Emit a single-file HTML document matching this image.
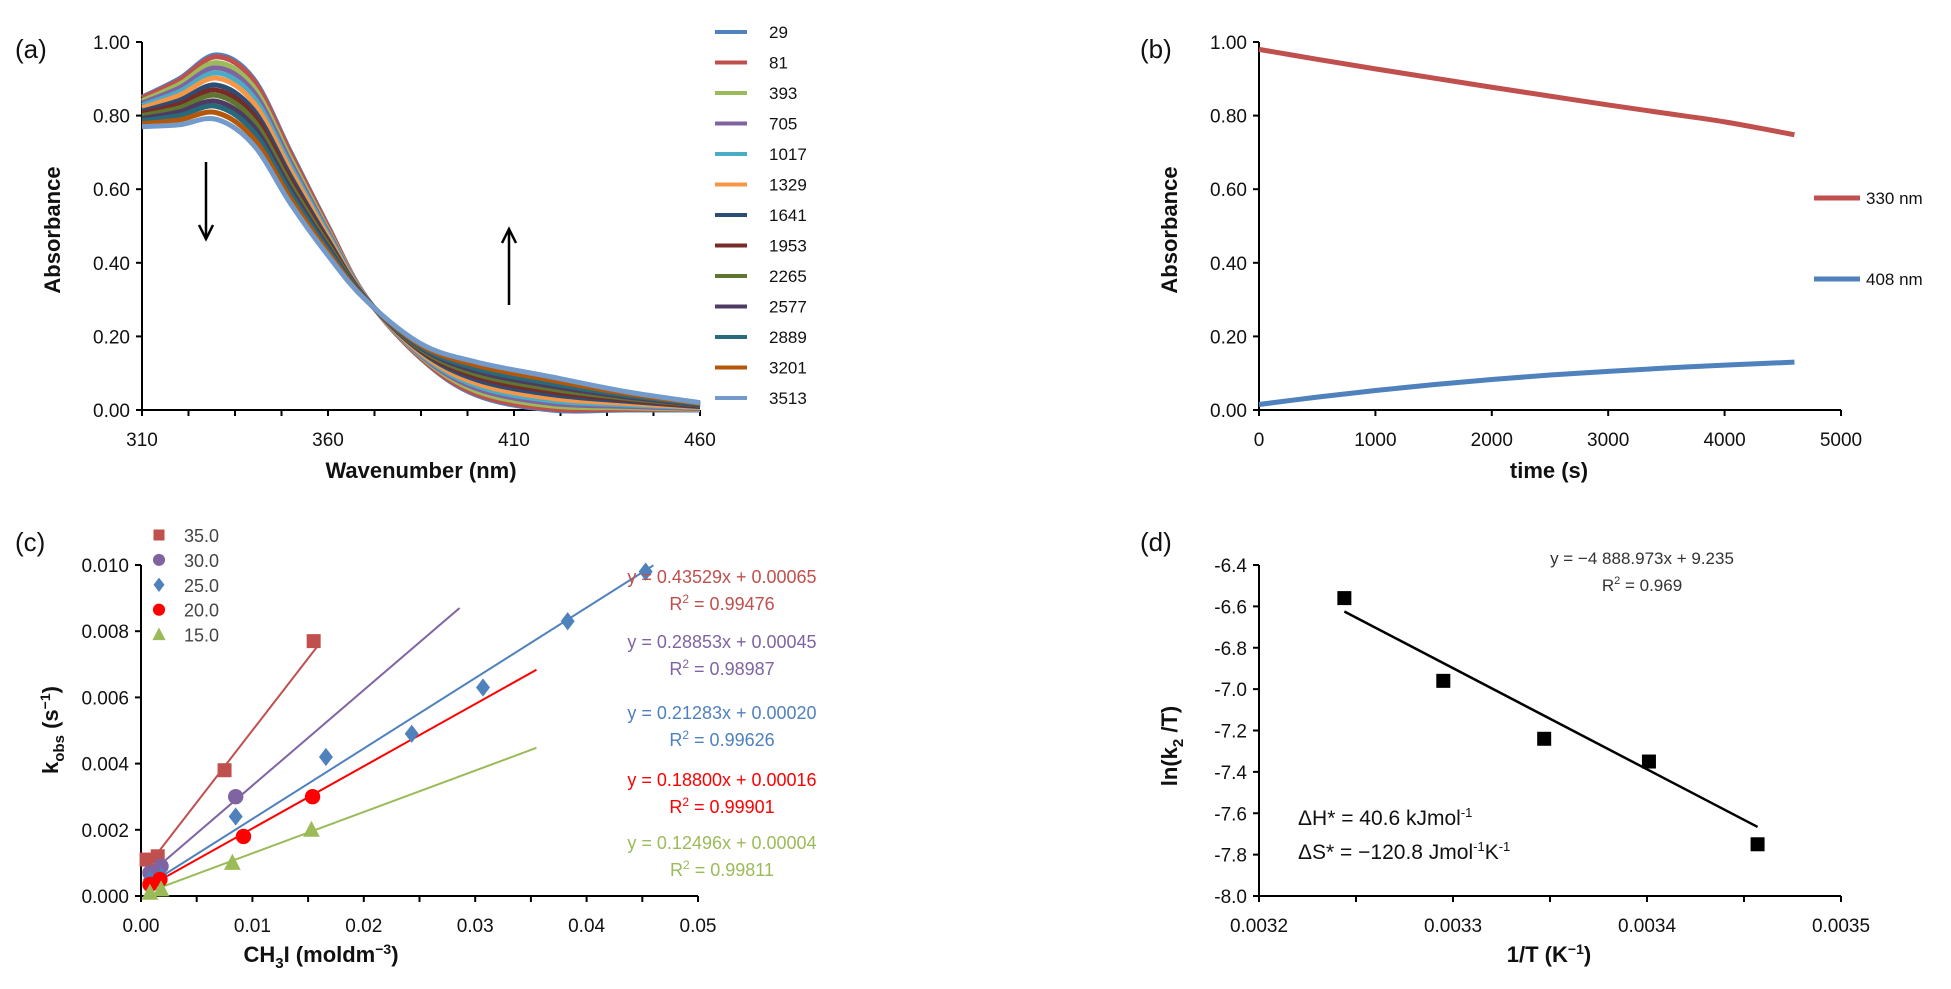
<!DOCTYPE html>
<html><head><meta charset="utf-8"><style>
body{margin:0;background:#fff;}
svg{display:block;font-family:"Liberation Sans",sans-serif;}
.tk{font-size:19px;fill:#111;}
.at{font-size:22px;font-weight:bold;fill:#111;}
.pl{font-size:26px;fill:#111;}
</style></head><body>
<svg id="c" width="1951" height="989" viewBox="0 0 1951 989"></svg>
<script>
// ---- Panel (a) data ----
const aWl=[310,320,330,340,350,360,370,385,400,420,440,460];
const aNames=["29","81","393","705","1017","1329","1641","1953","2265","2577","2889","3201","3513"];
const aColors=["#4F81BD","#C0504D","#9BBB59","#8064A2","#4BACC6","#F79646","#2C4D75","#772C2A","#5F7530","#4D3B62","#276A7C","#B65708","#729ACA"];
const s29=[0.85,0.90,0.965,0.90,0.70,0.50,0.31,0.14,0.04,0.0,0.0,0.0];
const s81=[0.848,0.896,0.960,0.895,0.696,0.498,0.310,0.141,0.043,0.003,0.002,0.001];
const s393=[0.840,0.885,0.944,0.878,0.683,0.490,0.309,0.145,0.051,0.011,0.006,0.002];
const s705=[0.834,0.875,0.930,0.864,0.672,0.484,0.308,0.148,0.058,0.018,0.010,0.004];
const s1017=[0.828,0.865,0.916,0.850,0.661,0.478,0.307,0.151,0.065,0.025,0.014,0.006];
const s1329=[0.821,0.855,0.902,0.835,0.650,0.471,0.306,0.154,0.072,0.032,0.018,0.007];
const s1641=[0.812,0.841,0.883,0.815,0.634,0.462,0.305,0.159,0.082,0.042,0.024,0.009];
const s1953=[0.806,0.831,0.869,0.801,0.623,0.456,0.305,0.162,0.090,0.050,0.028,0.011];
const s2265=[0.800,0.821,0.855,0.787,0.612,0.450,0.304,0.165,0.097,0.057,0.032,0.013];
const s2577=[0.792,0.810,0.839,0.770,0.599,0.442,0.303,0.169,0.105,0.065,0.036,0.014];
const s2889=[0.786,0.800,0.825,0.756,0.588,0.436,0.302,0.172,0.112,0.072,0.040,0.016];
const s3201=[0.778,0.788,0.808,0.738,0.574,0.428,0.301,0.176,0.121,0.081,0.045,0.018];
const s3513=[0.77,0.775,0.79,0.72,0.56,0.42,0.30,0.18,0.13,0.09,0.05,0.02];
const aSeries=[s29,s81,s393,s705,s1017,s1329,s1641,s1953,s2265,s2577,s2889,s3201,s3513];
const aYTicks=["0.00","0.20","0.40","0.60","0.80","1.00"];
const aXTicks=[310,360,410,460];
// ---- Panel (b) data ----
const bTime=[0,500,1000,1500,2000,2500,3000,3500,4000,4600];
const b330=[0.98,0.953,0.927,0.902,0.877,0.853,0.829,0.806,0.783,0.748];
const b408=[0.015,0.035,0.053,0.069,0.083,0.095,0.105,0.114,0.122,0.13];
const bXTicks=[0,1000,2000,3000,4000,5000];
// ---- Panel (c) data ----
const cTemps=["35.0","30.0","25.0","20.0","15.0"];
const cColors=["#C0504D","#8064A2","#4F81BD","#FF0000","#9BBB59"];
const cShapes=["square","circle","diamond","circle","triangle"];
const cX35=[0.0005,0.0015,0.0075,0.0155], cY35=[0.0011,0.0012,0.0038,0.0077];
const cX30=[0.0008,0.0018,0.0085], cY30=[0.0007,0.0009,0.0030];
const cX25=[0.0008,0.0018,0.0085,0.0166,0.0243,0.0307,0.0383,0.0453], cY25=[0.0005,0.0006,0.0024,0.0042,0.0049,0.0063,0.0083,0.0098];
const cX20=[0.0008,0.0017,0.0092,0.0154], cY20=[0.00035,0.0005,0.0018,0.0030];
const cX15=[0.0008,0.0018,0.0082,0.0153], cY15=[0.0001,0.0002,0.0010,0.0020];
const cSlopes=[0.43529,0.28853,0.21283,0.18800,0.12496];
const cIntercepts=[0.00065,0.00045,0.00020,0.00016,0.00004];
const cFitEnd=[0.0158,0.0286,0.046,0.0355,0.0355];
const cEq=["y = 0.43529x + 0.00065","y = 0.28853x + 0.00045","y = 0.21283x + 0.00020","y = 0.18800x + 0.00016","y = 0.12496x + 0.00004"];
const cR2=["0.99476","0.98987","0.99626","0.99901","0.99811"];
const cXTicks=["0.00","0.01","0.02","0.03","0.04","0.05"];
const cYTicks=["0.000","0.002","0.004","0.006","0.008","0.010"];
// ---- Panel (d) data ----
const dX=[0.003244,0.003295,0.003347,0.003401,0.003457];
const dY=[-6.56,-6.96,-7.24,-7.35,-7.75];
const dSlope=-4888.973, dIntercept=9.235;
const dXTicks=["0.0032","0.0033","0.0034","0.0035"];
const dYTicks=["-8.0","-7.8","-7.6","-7.4","-7.2","-7.0","-6.8","-6.6","-6.4"];

const svg=document.getElementById('c');
const NS="http://www.w3.org/2000/svg";
function mk(tag,at,parent){const e=document.createElementNS(NS,tag);for(const k in at)e.setAttribute(k,at[k]);(parent||svg).appendChild(e);return e;}
function txt(s,x,y,cls,anchor,parent,extra){const t=mk('text',Object.assign({x:x,y:y,class:cls,'text-anchor':anchor||'start'},extra||{}),parent);t.textContent=s;return t;}
function lin(d0,d1,r0,r1){return v=>r0+(v-d0)/(d1-d0)*(r1-r0);}
function smooth(pts){let d="M"+pts[0][0]+","+pts[0][1];for(let i=0;i<pts.length-1;i++){const p0=pts[i-1]||pts[i],p1=pts[i],p2=pts[i+1],p3=pts[i+2]||p2;const c1=[p1[0]+(p2[0]-p0[0])/6,p1[1]+(p2[1]-p0[1])/6],c2=[p2[0]-(p3[0]-p1[0])/6,p2[1]-(p3[1]-p1[1])/6];d+=" C"+c1+" "+c2+" "+p2;}return d;}
function arrow(x,y1,y2,name){const g=mk('g',{});mk('line',{x1:x,y1:y1,x2:x,y2:y2,stroke:'#000','stroke-width':2.5},g);const dir=y2>y1?-1:1;mk('polyline',{points:(x-7)+","+(y2+dir*14)+" "+x+","+y2+" "+(x+7)+","+(y2+dir*14),fill:'none',stroke:'#000','stroke-width':2.5},g);}
function axes(g,x0,x1,y0,y1){mk('line',{x1:x0,y1:y1,x2:x0,y2:y0,stroke:'#000','stroke-width':2},g);mk('line',{x1:x0,y1:y0,x2:x1,y2:y0,stroke:'#000','stroke-width':2},g);}

// ===== Panel a =====
{
const g=mk('g',{});
const X=lin(310,460,142,700),Y=lin(0,1,410,42);
axes(g,142,700,410,42);
aYTicks.forEach(t=>{const y=Y(+t);mk('line',{x1:136,y1:y,x2:142,y2:y,stroke:'#000','stroke-width':2},g);const l=txt(t,130,y+7,'tk','end',g);});
for(let v=310;v<=460;v+=12.5){mk('line',{x1:X(v),y1:410,x2:X(v),y2:416,stroke:'#000','stroke-width':2},g);}
aXTicks.forEach(t=>{const l=txt(t,X(t),446,'tk','middle',g);});
aSeries.forEach((s,i)=>{const p=mk('path',{d:smooth(s.map((v,j)=>[X(aWl[j]),Y(v)])),fill:'none',stroke:aColors[i],'stroke-width':5},g);});
aNames.forEach((n,i)=>{const y=32+i*30.5;const e=mk('g',{},g);mk('line',{x1:715,y1:y,x2:747,y2:y,stroke:aColors[i],'stroke-width':4},e);txt(n,769,y+6,'tk','start',e,{style:'font-size:17px'});});
const yt=txt('Absorbance',0,0,'at','middle',g,{transform:'translate(60,230) rotate(-90)'});
const xt=txt('Wavenumber (nm)',421,478,'at','middle',g);
const pl=txt('(a)',15,58,'pl','start',g);
arrow(206,162,239,'down-arrow');arrow(509,305,229,'up-arrow');
}
// ===== Panel b =====
{
const g=mk('g',{});
const X=lin(0,5000,1259,1841),Y=lin(0,1,410,42);
axes(g,1259,1841,410,42);
aYTicks.forEach(t=>{const y=Y(+t);mk('line',{x1:1253,y1:y,x2:1259,y2:y,stroke:'#000','stroke-width':2},g);const l=txt(t,1247,y+7,'tk','end',g);});
bXTicks.forEach(t=>{mk('line',{x1:X(t),y1:410,x2:X(t),y2:416,stroke:'#000','stroke-width':2},g);const l=txt(t,X(t),446,'tk','middle',g);});
const p1=mk('path',{d:smooth(bTime.map((t,i)=>[X(t),Y(b330[i])])),fill:'none',stroke:'#C0504D','stroke-width':5},g);
const p2=mk('path',{d:smooth(bTime.map((t,i)=>[X(t),Y(b408[i])])),fill:'none',stroke:'#4F81BD','stroke-width':5},g);
[["330 nm","#C0504D",198],["408 nm","#4F81BD",279]].forEach(l=>{const e=mk('g',{},g);mk('line',{x1:1814,y1:l[2],x2:1860,y2:l[2],stroke:l[1],'stroke-width':5},e);txt(l[0],1866,l[2]+6,'tk','start',e,{style:'font-size:17px'});});
const yt=txt('Absorbance',0,0,'at','middle',g,{transform:'translate(1177,230) rotate(-90)'});
const xt=txt('time (s)',1549,478,'at','middle',g);
const pl=txt('(b)',1140,58,'pl','start',g);
}
// ===== Panel c =====
function marker(g,shape,x,y,col,s){
 if(shape==='square')return mk('rect',{x:x-s,y:y-s,width:2*s,height:2*s,fill:col},g);
 if(shape==='circle')return mk('circle',{cx:x,cy:y,r:s*1.1,fill:col},g);
 if(shape==='diamond')return mk('polygon',{points:`${x},${y-s*1.3} ${x+s},${y} ${x},${y+s*1.3} ${x-s},${y}`,fill:col},g);
 return mk('polygon',{points:`${x},${y-s*1.3} ${x+s*1.2},${y+s} ${x-s*1.2},${y+s}`,fill:col},g);
}
{
const g=mk('g',{});
const X=lin(0,0.05,141,698),Y=lin(0,0.010,896,565);
axes(g,141,698,896,565);
cYTicks.forEach(t=>{const y=Y(+t);mk('line',{x1:135,y1:y,x2:141,y2:y,stroke:'#000','stroke-width':2},g);const l=txt(t,129,y+7,'tk','end',g);});
for(let v=0;v<=0.0501;v+=0.005){mk('line',{x1:X(v),y1:896,x2:X(v),y2:902,stroke:'#000','stroke-width':2},g);}
cXTicks.forEach(t=>{const l=txt(t,X(+t),932,'tk','middle',g);});
const xs=[cX35,cX30,cX25,cX20,cX15],ys=[cY35,cY30,cY25,cY20,cY15];
cTemps.forEach((t,i)=>{
 const x0=xs[i][0];const f=mk('line',{x1:X(x0),y1:Y(cSlopes[i]*x0+cIntercepts[i]),x2:X(cFitEnd[i]),y2:Y(cSlopes[i]*cFitEnd[i]+cIntercepts[i]),stroke:cColors[i],'stroke-width':2},g);
 
});
cTemps.forEach((t,i)=>{xs[i].forEach((x,j)=>{const m=marker(g,cShapes[i],X(x),Y(ys[i][j]),cColors[i],7);});});
cTemps.forEach((t,i)=>{const y=535+i*24.9;const e=mk('g',{},g);marker(e,cShapes[i],159,y,cColors[i],5.5);txt(t,184,y+7,'tk','start',e,{style:'font-size:18px;fill:#444'});});
const eqY=[576,641,712,779,842];
cEq.forEach((s,i)=>{const e=mk('g',{},g);
 txt(s,722,eqY[i]+7,'tk','middle',e,{style:'font-size:18px;fill:'+cColors[i]});
 const r=txt('',722,eqY[i]+34,'tk','middle',e,{style:'font-size:18px;fill:'+cColors[i]});r.innerHTML='R<tspan dy="-7" font-size="12">2</tspan><tspan dy="7"> = '+cR2[i]+'</tspan>';});
const yt=mk('text',{class:'at','text-anchor':'middle',transform:'translate(58,730) rotate(-90)'},g);yt.innerHTML='k<tspan dy="6" font-size="15">obs</tspan><tspan dy="-6"> (s</tspan><tspan dy="-8" font-size="14">−1</tspan><tspan dy="8">)</tspan>';
const xt=mk('text',{x:321,y:962,class:'at','text-anchor':'middle'},g);xt.innerHTML='CH<tspan dy="6" font-size="15">3</tspan><tspan dy="-6">I (moldm</tspan><tspan dy="-8" font-size="14">−3</tspan><tspan dy="8">)</tspan>';
const pl=txt('(c)',15,551,'pl','start',g);
}
// ===== Panel d =====
{
const g=mk('g',{});
const X=lin(0.0032,0.0035,1259,1841),Y=lin(-8.0,-6.4,896,565);
axes(g,1259,1841,896,565);
dYTicks.forEach(t=>{const y=Y(+t);mk('line',{x1:1253,y1:y,x2:1259,y2:y,stroke:'#000','stroke-width':2},g);const l=txt(t,1247,y+7,'tk','end',g);});
for(let v=0.0032;v<=0.003501;v+=0.00005){mk('line',{x1:X(v),y1:896,x2:X(v),y2:902,stroke:'#000','stroke-width':2},g);}
dXTicks.forEach(t=>{const l=txt(t,X(+t),932,'tk','middle',g);});
const xa=dX[0],xb=dX[dX.length-1];
const f=mk('line',{x1:X(xa),y1:Y(dSlope*xa+dIntercept),x2:X(xb),y2:Y(dSlope*xb+dIntercept),stroke:'#000','stroke-width':2.5},g);
dX.forEach((x,i)=>{const m=mk('rect',{x:X(x)-7,y:Y(dY[i])-7,width:14,height:14,fill:'#000'},g);});
const eq=txt('y = −4 888.973x + 9.235',1642,564,'tk','middle',g,{style:'font-size:17px;fill:#333'});
const r2=mk('text',{x:1642,y:591,class:'tk','text-anchor':'middle',style:'font-size:17px;fill:#333'},g);r2.innerHTML='R<tspan dy="-7" font-size="11">2</tspan><tspan dy="7"> = 0.969</tspan>';
const h=mk('text',{x:1298,y:825,class:'tk',style:'font-size:21px'},g);h.innerHTML='ΔH* = 40.6 kJmol<tspan dy="-8" font-size="13">-1</tspan>';
const s=mk('text',{x:1298,y:859,class:'tk',style:'font-size:21px'},g);s.innerHTML='ΔS* = −120.8 Jmol<tspan dy="-8" font-size="13">-1</tspan><tspan dy="8">K</tspan><tspan dy="-8" font-size="13">-1</tspan>';
const yt=mk('text',{class:'at','text-anchor':'middle',transform:'translate(1177,746) rotate(-90)'},g);yt.innerHTML='ln(k<tspan dy="6" font-size="15">2</tspan><tspan dy="-6"> /T)</tspan>';
const xt=mk('text',{x:1549,y:962,class:'at','text-anchor':'middle'},g);xt.innerHTML='1/T (K<tspan dy="-8" font-size="14">−1</tspan><tspan dy="8">)</tspan>';
const pl=txt('(d)',1140,551,'pl','start',g);
}
</script>
</body></html>
